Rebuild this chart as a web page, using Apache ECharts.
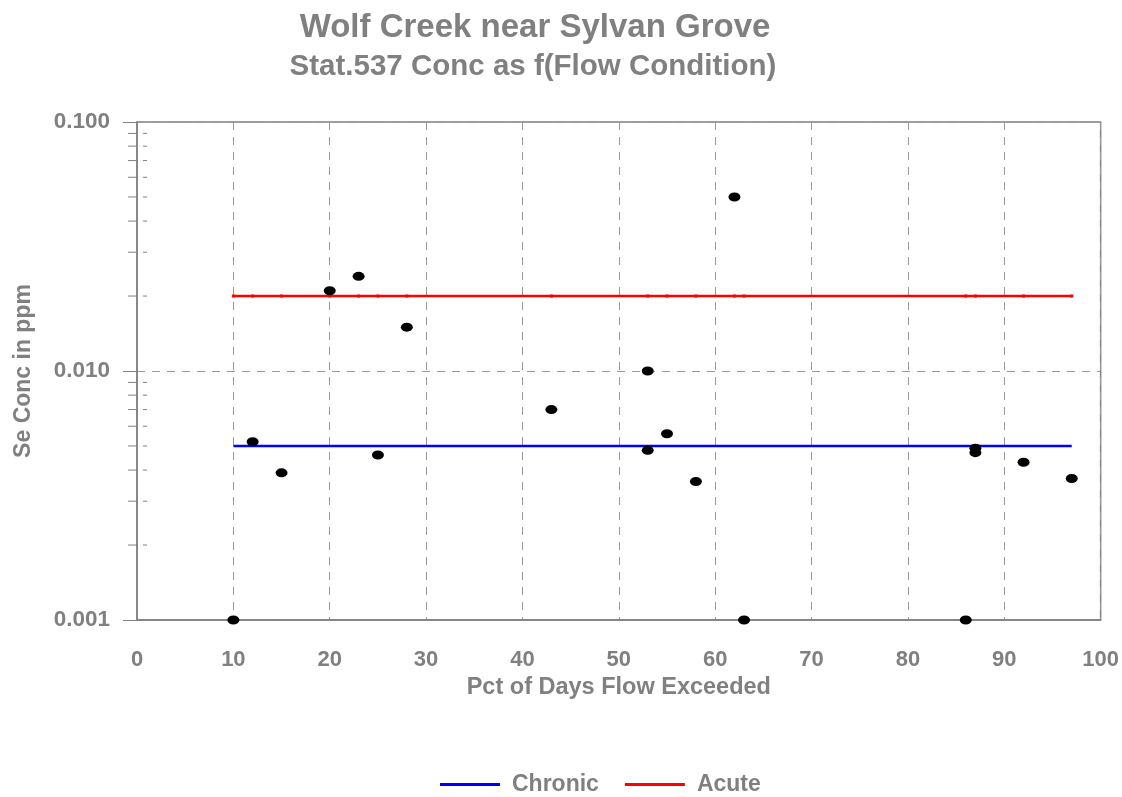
<!DOCTYPE html>
<html>
<head>
<meta charset="utf-8">
<script src="https://cdn.jsdelivr.net/npm/echarts@6/dist/echarts.min.js"></script>
<style>html,body{margin:0;padding:0;background:#fff}#c{width:1122px;height:797px}</style>
</head>
<body>
<div id="c"></div>
<script>
// Sample data: percent of days flow exceeded vs Se concentration (ppm)
var pctExceeded = [10, 12, 15, 20, 23, 25, 28, 43, 53, 53, 55, 58, 62, 63, 86, 87, 87, 92, 97];
var seConc = [0.001, 0.0052, 0.0039, 0.021, 0.024, 0.0046, 0.015, 0.007, 0.010, 0.0048, 0.0056, 0.0036, 0.050, 0.001, 0.001, 0.0049, 0.0047, 0.0043, 0.0037];
// Criteria lines
var chronicX = [10, 97];
var chronicY = [0.005, 0.005];
var acuteX = [10, 12, 15, 20, 23, 25, 28, 43, 53, 55, 58, 62, 63, 86, 87, 92, 97];
var acuteLevel = 0.02;
var yTickLabels = ['0.001', '0.010', '0.100'];
var minorTickVals = [0.002,0.003,0.004,0.005,0.006,0.007,0.008,0.009,0.02,0.03,0.04,0.05,0.06,0.07,0.08,0.09];

var gray = '#808080';
var font = 'Liberation Sans, Arial, sans-serif';

var chart = echarts.init(document.getElementById('c'));
var option = {
  backgroundColor: '#fff',
  animation: false,
  title: [
    {text: 'Wolf Creek near Sylvan Grove', left: 530, top: 6, textAlign: 'center',
     textStyle: {fontFamily: font, fontWeight: 'bold', fontSize: 33, color: gray}},
    {text: 'Stat.537 Conc as f(Flow Condition)', left: 528, top: 47, textAlign: 'center',
     textStyle: {fontFamily: font, fontWeight: 'bold', fontSize: 29.5, color: gray}}
  ],
  legend: {
    data: [
      {name: 'Chronic', icon: 'rect'},
      {name: 'Acute', icon: 'rect'}
    ],
    top: 768, left: 435,
    itemWidth: 60, itemHeight: 3, itemGap: 26,
    textStyle: {fontFamily: font, fontWeight: 'bold', fontSize: 23, color: gray, padding: [0, 0, 0, 7]}
  },
  grid: {left: 137, right: 19, top: 122, bottom: 177, show: true, borderColor: gray, borderWidth: 1.5},
  xAxis: {
    type: 'value', min: 0, max: 100, interval: 10,
    name: 'Pct of Days Flow Exceeded', nameLocation: 'middle', nameGap: 54,
    nameTextStyle: {fontFamily: font, fontWeight: 'bold', fontSize: 23.5, color: gray},
    axisLine: {show: true, lineStyle: {color: gray, width: 1.5}},
    axisTick: {show: false},
    axisLabel: {fontFamily: font, fontWeight: 'bold', fontSize: 22, color: gray, margin: 29},
    splitLine: {show: true, lineStyle: {type: [8, 7], color: '#999', width: 1}}
  },
  yAxis: {
    type: 'log', logBase: 10, min: 0.001, max: 0.1,
    name: 'Se Conc in ppm', nameLocation: 'middle', nameGap: 102, nameRotate: 90,
    nameTextStyle: {fontFamily: font, fontWeight: 'bold', fontSize: 23, color: gray},
    axisLine: {show: true, lineStyle: {color: gray, width: 1.5}},
    axisTick: {show: true, length: 14, lineStyle: {color: gray, width: 1}},
    axisLabel: {fontFamily: font, fontWeight: 'bold', fontSize: 22.5, color: gray, margin: 27,
      formatter: function (v) {
        var s = v.toFixed(3);
        return yTickLabels.indexOf(s) >= 0 ? s : '';
      }},
    splitLine: {show: true, lineStyle: {type: [8, 7], color: '#999', width: 1}}
  },
  series: [
    {
      name: 'minorTicks', type: 'custom', silent: true, z: 1,
      data: minorTickVals.map(function (v) { return [0, v]; }),
      renderItem: function (params, api) {
        var p = api.coord([0, api.value(1)]);
        var st = {stroke: gray, lineWidth: 1};
        return {type: 'group', children: [
          {type: 'line', shape: {x1: p[0] - 9, y1: p[1], x2: p[0], y2: p[1]}, style: st},
          {type: 'line', shape: {x1: p[0] + 6, y1: p[1], x2: p[0] + 10, y2: p[1]}, style: st}
        ]};
      }
    },
    {
      name: 'Chronic', type: 'line',
      data: chronicX.map(function (x, i) { return [x, chronicY[i]]; }),
      showSymbol: false, symbol: 'none',
      itemStyle: {color: '#0000ff'},
      lineStyle: {color: '#0000ff', width: 2.5}, z: 3
    },
    {
      name: 'Acute', type: 'line',
      data: acuteX.map(function (x) { return [x, acuteLevel]; }),
      symbol: 'rect', symbolSize: 3, showSymbol: true,
      itemStyle: {color: '#ff0000'},
      lineStyle: {color: '#ff0000', width: 2.5}, z: 3
    },
    {
      name: 'Samples', type: 'scatter',
      data: pctExceeded.map(function (x, i) { return [x, seConc[i]]; }),
      symbol: 'circle', symbolSize: [12, 9],
      itemStyle: {color: '#000', opacity: 1}, z: 5
    }
  ]
};
chart.setOption(option);
</script>
</body>
</html>
